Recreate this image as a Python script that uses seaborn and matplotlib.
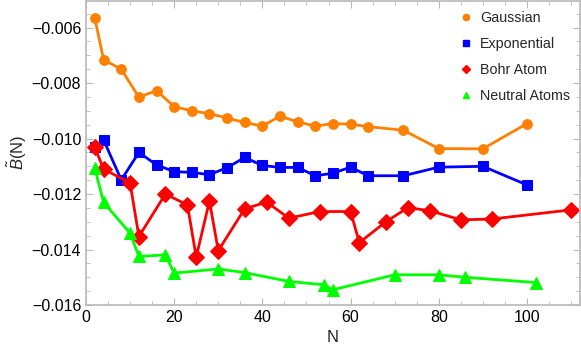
import numpy as np
import pandas as pd
import seaborn as sns
import matplotlib.pyplot as plt
from matplotlib.lines import Line2D
from matplotlib.ticker import MultipleLocator

sns.set_style('ticks')
plt.rcParams['font.family'] = ['Liberation Sans', 'DejaVu Sans']
plt.rcParams['mathtext.fontset'] = 'custom'
plt.rcParams['mathtext.it'] = 'Liberation Sans:italic'
plt.rcParams['mathtext.rm'] = 'Liberation Sans'

# data
n_gauss = [2, 4, 8, 12, 16, 20, 24, 28, 32, 36, 40, 44, 48, 52, 56, 60, 64, 72, 80, 90, 100]
b_gauss = [-0.00566, -0.00716, -0.0075, -0.00851, -0.00827, -0.00885, -0.0090, -0.0091,
           -0.00926, -0.00942, -0.00955, -0.00919, -0.0094, -0.00955, -0.00946, -0.00948,
           -0.00957, -0.0097, -0.01036, -0.01037, -0.00946]

n_exp = [2, 4, 8, 12, 16, 20, 24, 28, 32, 36, 40, 44, 48, 52, 56, 60, 64, 72, 80, 90, 100]
b_exp = [-0.0103, -0.01005, -0.01149, -0.0105, -0.01095, -0.01119, -0.01122, -0.0113,
         -0.01105, -0.01068, -0.01097, -0.01104, -0.01104, -0.01134, -0.01125, -0.01103,
         -0.01134, -0.01134, -0.01103, -0.0110, -0.01167]

n_bohr = [2, 4, 10, 12, 18, 23, 25, 28, 30, 36, 41, 46, 53, 60, 62, 68, 73, 78, 85, 92, 110]
b_bohr = [-0.01032, -0.0111, -0.0116, -0.01353, -0.0120, -0.01239, -0.01427, -0.01225,
          -0.01404, -0.01253, -0.01229, -0.01287, -0.01263, -0.01263, -0.01375, -0.0130,
          -0.01249, -0.0126, -0.01293, -0.0129, -0.01257]

n_neut = [2, 4, 10, 12, 18, 20, 30, 36, 46, 54, 56, 70, 80, 86, 102]
b_neut = [-0.01107, -0.0123, -0.01341, -0.01425, -0.01419, -0.01485, -0.0147, -0.01483,
          -0.01515, -0.01527, -0.01545, -0.01491, -0.01491, -0.015, -0.01519]

labels = ['Gaussian', 'Exponential', 'Bohr Atom', 'Neutral Atoms']
colors = ['#ff8000', '#0000ff', '#ff0000', '#00ff00']
markers = ['o', 's', 'D', '^']
msizes = [7, 7, 8, 9]

series = [(n_gauss, b_gauss), (n_exp, b_exp), (n_bohr, b_bohr), (n_neut, b_neut)]

fig = plt.figure(figsize=(5.81, 3.49), dpi=100)
ax = fig.add_axes([0.148, 0.126, 0.85, 0.872])

for (n, b), lab, c, m, ms in zip(series, labels, colors, markers, msizes):
    df = pd.DataFrame({'N': n, 'B': b})
    sns.lineplot(data=df, x='N', y='B', ax=ax, color=c, marker=m, markersize=ms,
                 markeredgecolor=c, linewidth=2, sort=False, legend=False)

ax.set_xlim(0, 112)
ax.set_ylim(-0.016, -0.00503)
ax.xaxis.set_major_locator(MultipleLocator(20))
ax.xaxis.set_minor_locator(MultipleLocator(5))
ax.yaxis.set_major_locator(MultipleLocator(0.002))
ax.yaxis.set_minor_locator(MultipleLocator(0.0005))
ax.yaxis.set_major_formatter(plt.FuncFormatter(lambda v, p: '\u2212%.3f' % abs(v) if v < 0 else '%.3f' % v))

for s in ax.spines.values():
    s.set_color('#b8b8b8')
    s.set_linewidth(1.2)
ax.tick_params(which='both', direction='in', top=True, right=True, color='#b8b8b8',
               labelsize=11.5, labelcolor='black')
ax.tick_params(which='major', length=5)
ax.tick_params(which='minor', length=3)

ax.set_xlabel('N', fontsize=12, labelpad=4)
ax.set_ylabel(r'$\tilde{B}$(N)', fontsize=12, labelpad=2)

handles = [Line2D([], [], linestyle='none', marker=m, color=c, markersize=4.5)
           for c, m in zip(colors, markers)]
ax.legend(handles, labels, loc='upper right', frameon=False, fontsize=10.3,
          handletextpad=0.4, labelspacing=0.85, borderaxespad=0.3, handlelength=1.2)

fig.savefig('out.png', dpi=100)
